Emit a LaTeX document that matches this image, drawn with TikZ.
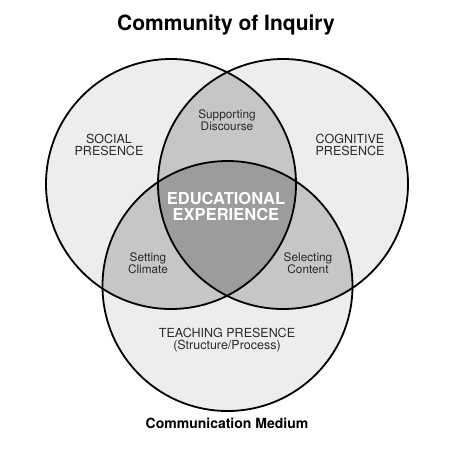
\documentclass[tikz,border=0pt]{standalone}
\usepackage{fontspec}
\setmainfont{TeX Gyre Heros}
\usepackage{xcolor}
\usepackage{tikz}
\usetikzlibrary{
    positioning,
    calc
}
\definecolor{outergray}{HTML}{EDEDED}
\definecolor{pairgray}{HTML}{C6C6C6}
\definecolor{coregray}{HTML}{9C9C9C}
\definecolor{labelgray}{HTML}{2A2A2A}
\tikzset{
    ring/.style={
        draw=black,
        line width=1.8pt,
        radius=125pt
    },
    zone/.style={
        radius=125pt
    },
    label/.style={
        align=center,
        text=labelgray,
        font=\fontsize{12.5}{11.5}\selectfont
    },
    smalllabel/.style={
        align=center,
        text=labelgray,
        font=\fontsize{11.8}{11}\selectfont
    },
    corelabel/.style={
        align=center,
        text=white,
        font=\fontsize{16.5}{16}\selectfont\bfseries
    },
    heading/.style={
        align=center,
        text=black,
        font=\bfseries
    }
}

\begin{document}
\begin{tikzpicture}[x=1pt, y=-1pt]
\useasboundingbox (0,0) rectangle (450,451);

\coordinate (social) at (171,184);
\coordinate (cognitive) at (283,184);
\coordinate (teaching) at (227.5,286);

% single circles
\fill[outergray, zone] (social) circle;
\fill[outergray, zone] (cognitive) circle;
\fill[outergray, zone] (teaching) circle;

% pairwise overlaps
\begin{scope}
    \clip[zone] (social) circle;
    \fill[pairgray, zone] (cognitive) circle;
    \fill[pairgray, zone] (teaching) circle;
\end{scope}
\begin{scope}
    \clip[zone] (cognitive) circle;
    \fill[pairgray, zone] (teaching) circle;
\end{scope}

% centre
\begin{scope}
    \clip[zone] (social) circle;
    \clip[zone] (cognitive) circle;
    \fill[coregray, zone] (teaching) circle;
\end{scope}

\draw[ring] (social) circle;
\draw[ring] (cognitive) circle;
\draw[ring] (teaching) circle;

\node[heading, font=\fontsize{21}{23}\selectfont\bfseries] (title) at (226,25) {Community of Inquiry};
\node[label] (sociallabel) at (109,145) {SOCIAL\\PRESENCE};
\node[label] (cognitivelabel) at (350,145) {COGNITIVE\\PRESENCE};
\node[smalllabel] (discourse) at (227,120) {Supporting\\Discourse};
\node[corelabel] (experience) at (226,206) {EDUCATIONAL\\EXPERIENCE};
\node[smalllabel] (climate) at (148,263) {Setting\\Climate};
\node[smalllabel] (content) at (308,263) {Selecting\\Content};
\node[label] (teachinglabel) at (227,340) {TEACHING PRESENCE\\(Structure/Process)};
\node[heading, font=\fontsize{14}{16}\selectfont\bfseries] (medium) at (227,423) {Communication Medium};
\end{tikzpicture}
\end{document}
